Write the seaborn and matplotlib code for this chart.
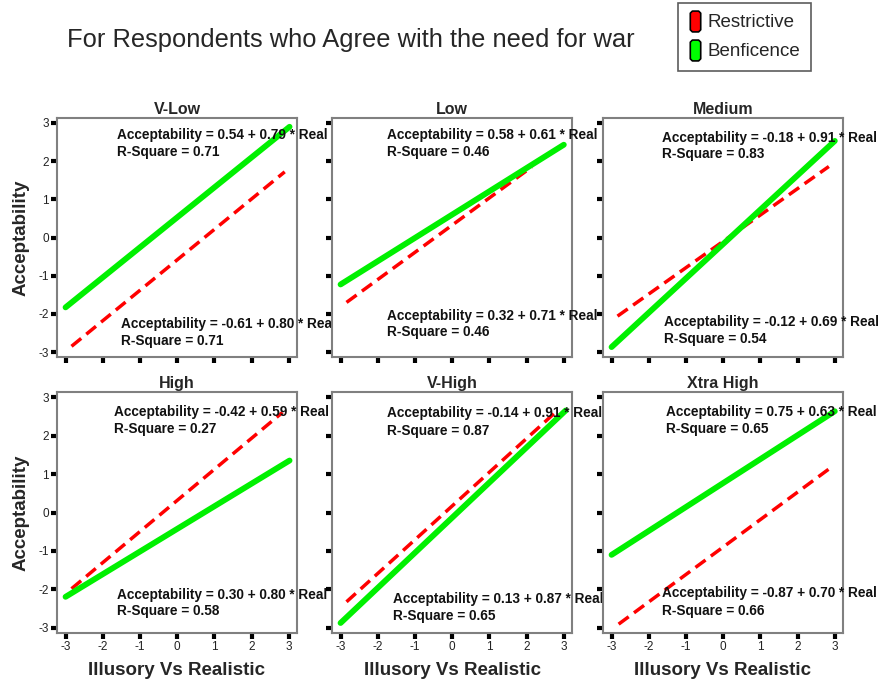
import matplotlib
matplotlib.use("Agg")
import matplotlib.pyplot as plt
from matplotlib.path import Path
from matplotlib.lines import Line2D
import seaborn as sns
import pandas as pd

# ---------------- data ----------------
panels = ["V-Low", "Low", "Medium", "High", "V-High", "Xtra High"]

# Benficence (green) line: start/end points
ben_x0 = [-3.0, -3.0, -3.0, -3.0, -3.0, -3.0]
ben_x1 = [3.02, 3.0, 3.0, 3.02, 3.05, 3.0]
ben_y0 = [-1.83, -1.23, -2.87, -2.19, -2.87, -1.10]
ben_y1 = [2.90, 2.43, 2.53, 1.35, 2.65, 2.63]

# Restrictive (red) line
res_x0 = [-2.84, -2.84, -2.84, -2.84, -2.84, -2.81]
res_x1 = [2.89, 2.14, 2.84, 2.83, 2.84, 2.87]
res_y0 = [-2.85, -1.70, -2.06, -1.98, -2.32, -2.90]
res_y1 = [1.72, 1.85, 1.86, 2.60, 2.66, 1.15]

# equation labels (upper / lower)
up_a = [0.54, 0.58, -0.18, -0.42, -0.14, 0.75]
up_b = [0.79, 0.61, 0.91, 0.59, 0.91, 0.63]
up_r2 = [0.71, 0.46, 0.83, 0.27, 0.87, 0.65]
lo_a = [-0.61, 0.32, -0.12, 0.30, 0.13, -0.87]
lo_b = [0.80, 0.71, 0.69, 0.80, 0.87, 0.70]
lo_r2 = [0.71, 0.46, 0.54, 0.58, 0.65, 0.66]

xticks = [-3, -2, -1, 0, 1, 2, 3]
yticks = [-3, -2, -1, 0, 1, 2, 3]

# text positions (axes fraction)
up_pos = [(0.25, 0.929, 0.858), (0.229, 0.929, 0.858), (0.246, 0.916, 0.849),
          (0.2375, 0.917, 0.846), (0.229, 0.913, 0.838), (0.2625, 0.917, 0.846)]
lo_pos = [(0.267, 0.138, 0.067), (0.229, 0.172, 0.105), (0.254, 0.146, 0.075),
          (0.25, 0.158, 0.091), (0.254, 0.141, 0.071), (0.246, 0.166, 0.091)]

# ---------------- style ----------------
sns.set_style("white")
plt.rcParams["font.family"] = ["Liberation Sans", "DejaVu Sans"]

W, H = 881, 681
fig = plt.figure(figsize=(W / 100, H / 100), dpi=100)

col_left = [57, 332, 603]
col_w = 240
row_top = [118, 392]
row_h = [239, 241]

GREEN = "#00f000"
RED = "#ff0000"

for i, name in enumerate(panels):
    r, c = divmod(i, 3)
    ax = fig.add_axes([col_left[c] / W, 1 - (row_top[r] + row_h[r]) / H,
                       col_w / W, row_h[r] / H])
    df_b = pd.DataFrame({"x": [ben_x0[i], ben_x1[i]], "y": [ben_y0[i], ben_y1[i]]})
    df_r = pd.DataFrame({"x": [res_x0[i], res_x1[i]], "y": [res_y0[i], res_y1[i]]})
    sns.lineplot(data=df_r, x="x", y="y", ax=ax, color=RED, lw=2.5,
                 linestyle=(0, (3.6, 1.9)), sort=False, zorder=2)
    sns.lineplot(data=df_b, x="x", y="y", ax=ax, color=GREEN, lw=4.2,
                 solid_capstyle="round", sort=False, zorder=3)
    ax.set_xlim(-3.23, 3.22)
    ax.set_ylim(-3.13, 3.13)
    ax.set_xticks(xticks)
    ax.set_yticks(yticks)
    ax.tick_params(axis="both", direction="out", length=4, width=3,
                   color="black", labelsize=8.5, labelcolor="#222222", pad=2,
                   bottom=True, left=True)
    if r == 0:
        ax.set_xticklabels([])
    else:
        ax.set_xticklabels([str(t) for t in xticks])
    if c == 0:
        ax.set_yticklabels([str(t) for t in yticks])
        ax.set_ylabel("Acceptability", fontsize=13.5, fontweight="bold", labelpad=6)
    else:
        ax.set_yticklabels([])
        ax.set_ylabel("")
    if r == 1:
        ax.set_xlabel("Illusory Vs Realistic", fontsize=13.5, fontweight="bold", labelpad=6)
    else:
        ax.set_xlabel("")
    for sp in ax.spines.values():
        sp.set_color("#808080")
        sp.set_linewidth(1.5)
        sp.set_visible(True)
    ax.set_title(name, fontsize=11.5, fontweight="bold", pad=3)
    ux, uy1, uy2 = up_pos[i]
    lx, ly1, ly2 = lo_pos[i]
    tk = dict(transform=ax.transAxes, fontsize=9.8, fontweight="bold",
              va="center", ha="left", clip_on=False, zorder=5, color="#111111")
    ax.text(ux, uy1, f"Acceptability = {up_a[i]:.2f} + {up_b[i]:.2f} * Real", **tk)
    ax.text(ux, uy2, f"R-Square = {up_r2[i]:.2f}", **tk)
    ax.text(lx, ly1, f"Acceptability = {lo_a[i]:.2f} + {lo_b[i]:.2f} * Real", **tk)
    ax.text(lx, ly2, f"R-Square = {lo_r2[i]:.2f}", **tk)

fig.text(67 / W, 1 - 40 / H, "For Respondents who Agree with the need for war",
         fontsize=18.4, ha="left", va="center")

# legend with elongated octagon markers
verts = [(-0.15, -0.5), (0.15, -0.5), (0.25, -0.4), (0.25, 0.4), (0.15, 0.5),
         (-0.15, 0.5), (-0.25, 0.4), (-0.25, -0.4), (-0.15, -0.5)]
codes = [Path.MOVETO] + [Path.LINETO] * 7 + [Path.CLOSEPOLY]
oct_marker = Path(verts, codes)
handles = [
    Line2D([], [], linestyle="none", marker=oct_marker, markersize=15,
           markerfacecolor=RED, markeredgecolor="black", markeredgewidth=1.2),
    Line2D([], [], linestyle="none", marker=oct_marker, markersize=15,
           markerfacecolor="#00ff00", markeredgecolor="black", markeredgewidth=1.2),
]
leg = fig.legend(handles, ["Restrictive", "Benficence"], loc="upper left",
                 bbox_to_anchor=(678 / W, 1 - 3 / H), fontsize=13.5,
                 frameon=True, fancybox=False, shadow=False, handlelength=0.6,
                 handletextpad=0.35, labelspacing=0.62, borderpad=0.6,
                 borderaxespad=0)
leg.get_frame().set_edgecolor("#333333")
leg.get_frame().set_linewidth(1.2)

fig.savefig("out.png", dpi=100)
